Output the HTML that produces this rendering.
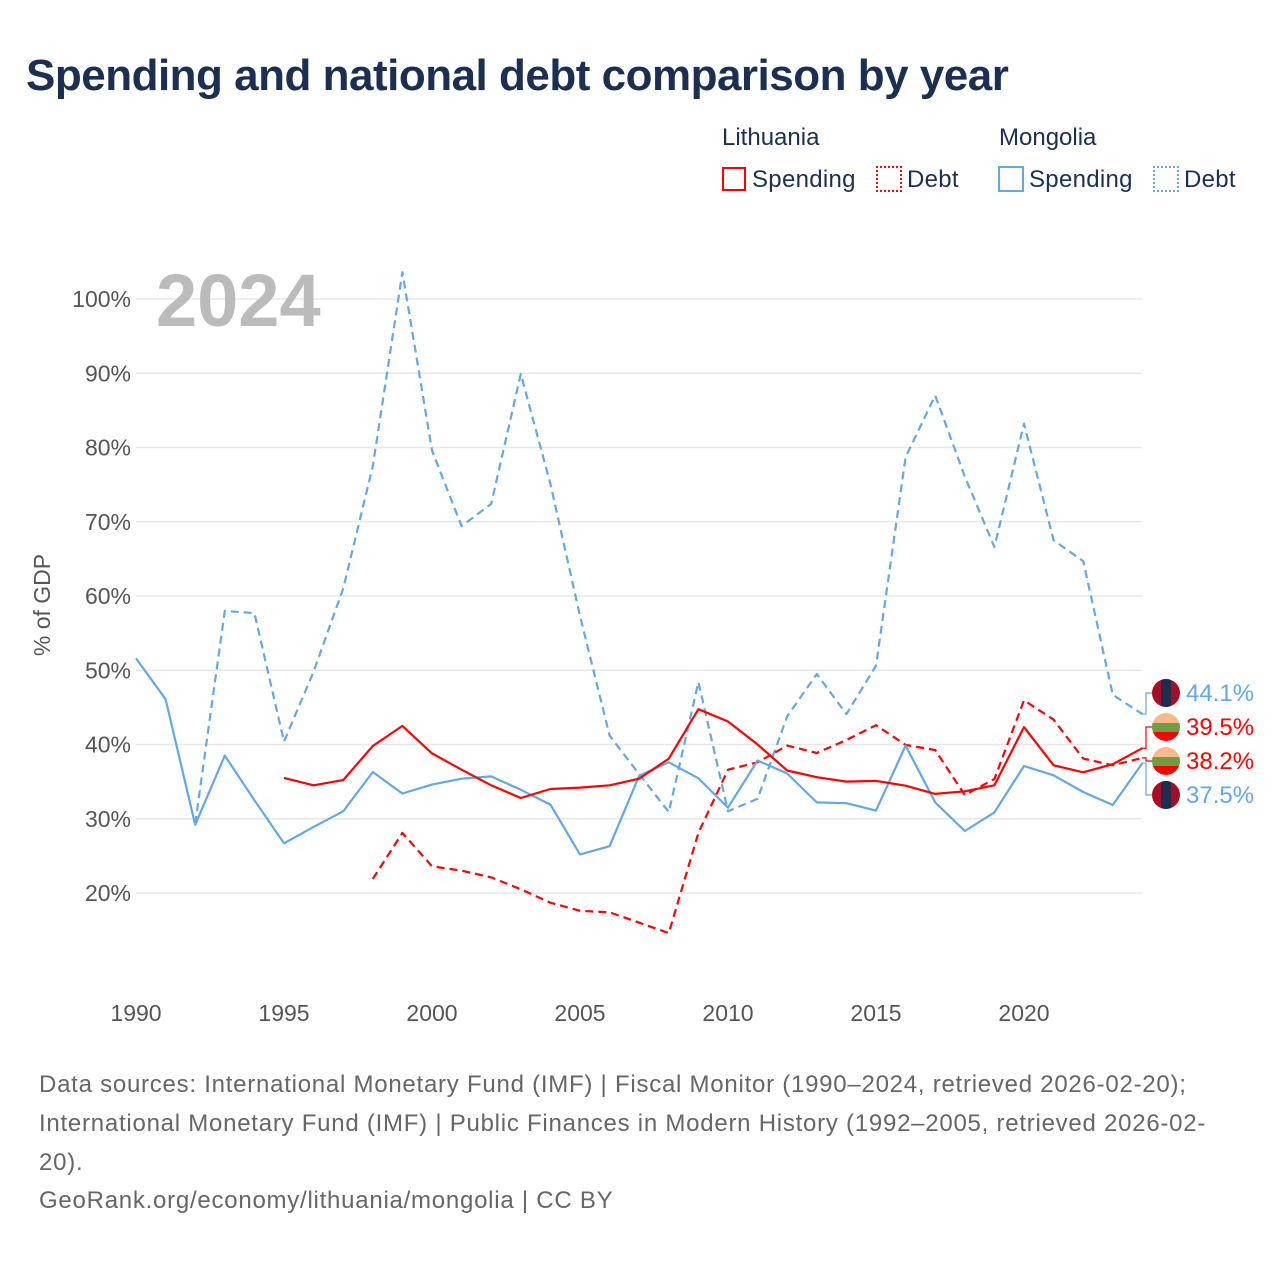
<!DOCTYPE html>
<html><head><meta charset="utf-8"><style>
body{margin:0;background:#fff;font-family:"Liberation Sans",sans-serif}
#w{position:relative;width:1280px;height:1280px;overflow:hidden}
.t{position:absolute;white-space:nowrap}
</style></head><body><div id="w">
<div class="t" style="left:26px;top:51px;font-size:44px;font-weight:bold;color:#1b2f52;letter-spacing:-0.5px">Spending and national debt comparison by year</div>
<div class="t" style="left:722px;top:124px;font-size:24px;color:#1b2f52">Lithuania</div>
<div class="t" style="left:999px;top:124px;font-size:24px;color:#1b2f52">Mongolia</div>
<div class="t" style="left:722px;top:166px;font-size:24px;color:#1b2f52;letter-spacing:0.3px"><span style="display:inline-block;width:24px;height:24px;border:2px solid #f00;box-sizing:border-box;vertical-align:-4px;margin-right:6px"></span>Spending</div>
<div class="t" style="left:876px;top:166px;font-size:24px;color:#1b2f52;letter-spacing:0.3px"><span style="display:inline-block;width:26px;height:26px;border:2px dotted #f00;box-sizing:border-box;vertical-align:-5px;margin-right:5px"></span>Debt</div>
<div class="t" style="left:998px;top:166px;font-size:24px;color:#1b2f52;letter-spacing:0.3px"><span style="display:inline-block;width:26px;height:26px;border:2px solid #62a8e8;box-sizing:border-box;vertical-align:-5px;margin-right:5px"></span>Spending</div>
<div class="t" style="left:1153px;top:166px;font-size:24px;color:#1b2f52;letter-spacing:0.3px"><span style="display:inline-block;width:26px;height:26px;border:2px dotted #62a8e8;box-sizing:border-box;vertical-align:-5px;margin-right:5px"></span>Debt</div>
<svg id="c" width="1280" height="1280" style="position:absolute;left:0;top:0"></svg>
<div class="t" style="left:39px;top:1066px;font-size:24px;line-height:38.8px;color:#666;letter-spacing:0.75px">Data sources: International Monetary Fund (IMF) | Fiscal Monitor (1990–2024, retrieved 2026-02-20);<br>International Monetary Fund (IMF) | Public Finances in Modern History (1992–2005, retrieved 2026-02-<br>20).<br>GeoRank.org/economy/lithuania/mongolia | CC BY</div>
</div>
<script>
const years=[];for(let y=1990;y<=2024;y++)years.push(y);
const mnSpending=[51.6,46.1,29.2,38.5,32.5,26.7,28.9,31,36.3,33.4,34.6,35.4,35.7,33.9,31.9,25.2,26.3,35.8,37.6,35.45,31.5,37.85,36.1,32.2,32.1,31.1,39.85,32.2,28.35,30.85,37.1,35.85,33.6,31.85,37.5];
const mnDebt=[null,null,29.3,58,57.7,40.4,49.8,61,77.5,103.6,79.6,69.4,72.4,89.9,75.1,57.3,41.2,36,30.9,48.4,31,32.7,43.8,49.5,44.1,50.6,78.7,87,76.1,66.6,83.2,67.5,64.7,46.7,44.1];
const ltSpending=[null,null,null,null,null,35.5,34.5,35.2,39.8,42.5,38.8,36.6,34.5,32.8,34,34.2,34.5,35.4,38.1,44.75,43.1,40,36.5,35.6,35,35.1,34.45,33.35,33.7,34.5,42.35,37.2,36.25,37.35,39.5];
const ltDebt=[null,null,null,null,null,null,null,null,21.9,28.1,23.6,23,22.1,20.5,18.7,17.6,17.4,16,14.6,28.1,36.6,37.6,39.85,38.85,40.6,42.6,39.95,39.25,33.2,35.35,45.95,43.35,38.1,37.2,38.2];
const yTicks=[20,30,40,50,60,70,80,90,100];
const xTicks=[1990,1995,2000,2005,2010,2015,2020];
const sx=y=>136+(y-1990)*29.6;
const sy=v=>893-(v-20)*7.425;
const svg=document.getElementById('c');const NS='http://www.w3.org/2000/svg';
function mk(t,a,p){const e=document.createElementNS(NS,t);for(const k in a)e.setAttribute(k,a[k]);(p||svg).appendChild(e);return e;}
yTicks.forEach(v=>{
 const g=mk('line',{x1:136,x2:1142,y1:sy(v),y2:sy(v),stroke:'#e8e8e8','stroke-width':1.5});
 
 
 const t=mk('text',{x:131,y:sy(v)+8,'text-anchor':'end','font-size':23,fill:'#555','font-family':'Liberation Sans'});t.textContent=v+'%';
 
 
});
xTicks.forEach(y=>{
 const t=mk('text',{x:sx(y),y:1021,'text-anchor':'middle','font-size':23,fill:'#555','font-family':'Liberation Sans'});t.textContent=y;
 
 
});
const yt=mk('text',{x:0,y:0,transform:'translate(50,605) rotate(-90)','text-anchor':'middle','font-size':23,fill:'#555','font-family':'Liberation Sans'});yt.textContent='% of GDP';


const yr=mk('text',{x:156,y:326,'font-size':74,'font-weight':'bold',fill:'#bbb','font-family':'Liberation Sans'});yr.textContent='2024';


function line(vals,color,dash,name){
 let d='';let pen=false;
 vals.forEach((v,i)=>{if(v==null){pen=false;return;}d+=(pen?'L':'M')+sx(years[i]).toFixed(1)+','+sy(v).toFixed(1);pen=true;});
 const p=mk('path',{d:d,fill:'none',stroke:color,'stroke-width':2.2,'stroke-dasharray':dash||'none','stroke-linejoin':'round'});
 
 
}
line(mnDebt,'#62a8e8','8,5','mongolia-debt-line');
line(ltDebt,'#f00','8,5','lithuania-debt-line');
line(mnSpending,'#62a8e8',null,'mongolia-spending-line');
line(ltSpending,'#f00',null,'lithuania-spending-line');
const ends=[[mnDebt,'#62a8e8',693,'mn'],[ltSpending,'#f00',727,'lt'],[ltDebt,'#f00',761,'lt'],[mnSpending,'#62a8e8',795,'mn']];
ends.forEach(([arr,col,ly,fl])=>{
 const v=arr[arr.length-1];const y0=sy(v);
 const c=mk('path',{d:`M1142,${y0}L1146,${y0}L1146,${ly}L1152,${ly}`,fill:'none',stroke:col,'stroke-width':1.2});
 
 
 const g=mk('g',{});
 
 
 const cp=mk('clipPath',{id:'cp'+ly},g);mk('circle',{cx:1166,cy:ly,r:14},cp);
 const gg=mk('g',{'clip-path':`url(#cp${ly})`},g);
 if(fl==='mn'){mk('rect',{x:1152,y:ly-14,width:28,height:28,fill:'#a50e26'},gg);mk('rect',{x:1161,y:ly-14,width:10,height:28,fill:'#1b2f52'},gg);}
 else{mk('rect',{x:1152,y:ly-14,width:28,height:10,fill:'#fbb98e'},gg);mk('rect',{x:1152,y:ly-4,width:28,height:9,fill:'#6a9f43'},gg);mk('rect',{x:1152,y:ly+5,width:28,height:10,fill:'#f00'},gg);}
 const t=mk('text',{x:1186,y:ly+8,'font-size':24,fill:col,'font-family':'Liberation Sans'});t.textContent=v.toFixed(1)+'%';
 
 
});
</script></body></html>
